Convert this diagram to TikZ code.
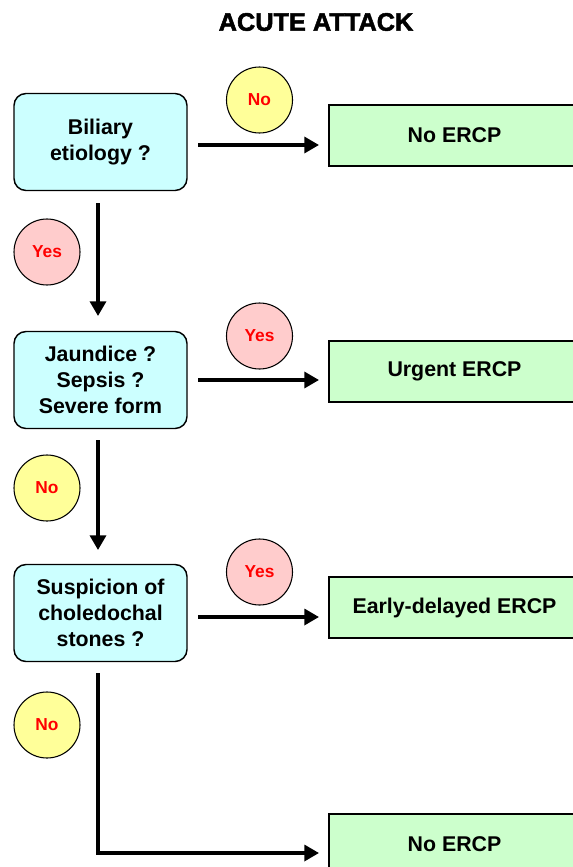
\documentclass[tikz,border=0pt]{standalone}
\usepackage{fontspec}
\setmainfont{Liberation Sans}
\newfontfamily\titlefont{Liberation Sans Bold}[FakeBold=2]
\usetikzlibrary{arrows.meta}
\definecolor{qfill}{HTML}{CCFFFF}
\definecolor{rfill}{HTML}{CCFFCC}
\definecolor{yesfill}{HTML}{FFCCCC}
\definecolor{nofill}{HTML}{FFFF99}
\begin{document}
\begin{tikzpicture}[x=0.75pt,y=-0.75pt,
  qbox/.style={draw=black,line width=1.1pt,fill=qfill,rounded corners=9pt,
    minimum width=129.75pt,minimum height=72.75pt,align=center,inner sep=0pt,
    font=\fontsize{16}{19.5}\selectfont\bfseries},
  rbox/.style={draw=black,line width=1.4pt,fill=rfill,
    minimum width=188.25pt,minimum height=45.75pt,inner sep=0pt,
    font=\fontsize{16}{19.5}\selectfont\bfseries},
  yesc/.style={circle,draw=black,line width=0.8pt,fill=yesfill,minimum size=49.5pt,
    inner sep=0pt,text=red,font=\fontsize{13}{15}\selectfont\bfseries},
  noc/.style={circle,draw=black,line width=0.8pt,fill=nofill,minimum size=49.5pt,
    inner sep=0pt,text=red,font=\fontsize{13}{15}\selectfont\bfseries},
  flow/.style={line width=2.5pt,-{Triangle[length=11pt,width=12pt]}}]
\useasboundingbox (0,0) rectangle (572,867);
\fill[white] (0,0) rectangle (572,867);

\node[font=\titlefont\fontsize{19}{21}\selectfont] (title) at (316,22) {ACUTE ATTACK};

\node[qbox] (q1) at (100.5,142) {Biliary\\etiology ?};
\node[qbox] (q2) at (100.5,380) {Jaundice ?\\Sepsis ?\\Severe form};
\node[qbox] (q3) at (100.5,613) {Suspicion of\\choledochal\\stones ?};

\node[rbox] (r1) at (454.5,135.5) {No ERCP};
\node[rbox] (r2) at (454.5,371.5) {Urgent ERCP};
\node[rbox] (r3) at (454.5,607.5) {Early-delayed ERCP};
\node[rbox] (r4) at (454.5,844.5) {No ERCP};

\node[noc]  (c1) at (259.5,100) {No};
\node[yesc] (c2) at (47,252) {Yes};
\node[yesc] (c3) at (259.5,336) {Yes};
\node[noc]  (c4) at (47,488) {No};
\node[yesc] (c5) at (259.5,572) {Yes};
\node[noc]  (c6) at (47,725) {No};

\coordinate (h1s) at (198,145);  \coordinate (h1e) at (319,145);
\coordinate (h2s) at (198,380);  \coordinate (h2e) at (319,380);
\coordinate (h3s) at (198,617);  \coordinate (h3e) at (319,617);
\coordinate (v1s) at (98,203);   \coordinate (v1e) at (98,316);
\coordinate (v2s) at (98,440);   \coordinate (v2e) at (98,550);
\coordinate (v3s) at (98,673);   \coordinate (v3c) at (98,853);
\coordinate (v3e) at (319,853);

\draw[flow] (h1s) -- (h1e);
\draw[flow] (h2s) -- (h2e);
\draw[flow] (h3s) -- (h3e);
\draw[flow] (v1s) -- (v1e);
\draw[flow] (v2s) -- (v2e);
\draw[flow] (v3s) -- (v3c) -- (v3e);
\end{tikzpicture}
\end{document}
